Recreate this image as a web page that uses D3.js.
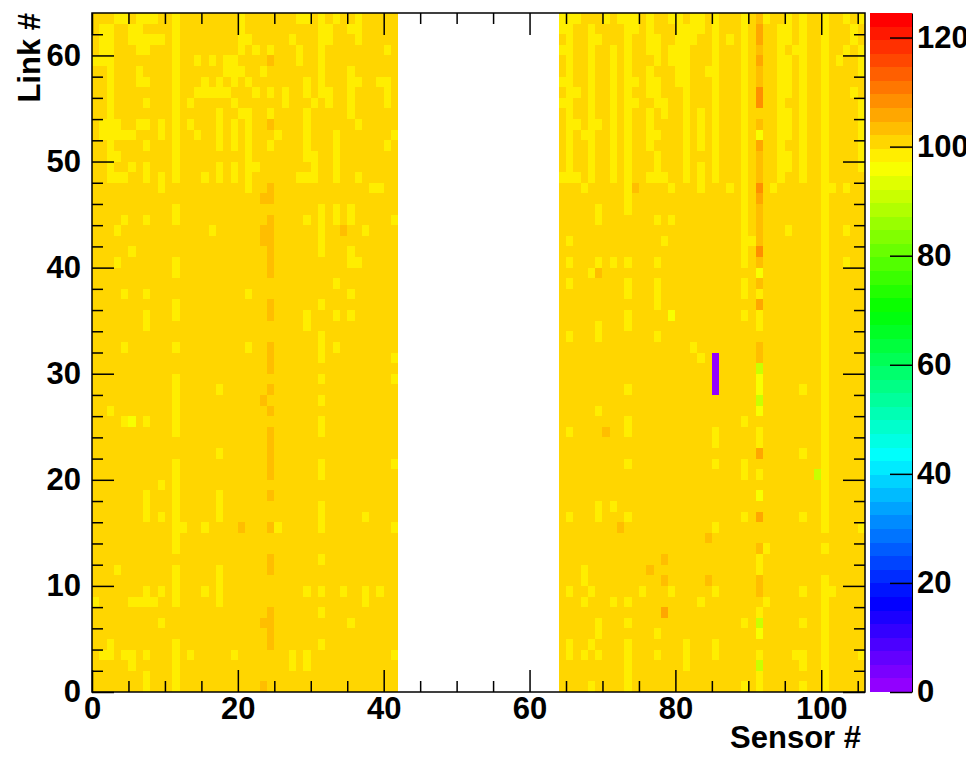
<!DOCTYPE html>
<html><head><meta charset="utf-8">
<script src="https://cdn.jsdelivr.net/npm/d3@7"></script>
<style>
html,body{margin:0;padding:0;background:#fff;}
svg{display:block;}
</style></head><body>
<svg id="chart" width="966" height="758"></svg>
<script>
// ---- data ----
// Each row = one link (63 at top down to 0), one character per sensor, '|' every 10 sensors for readability.
// Codes: '.' ~100.5, 'y' ~98, 'Y' ~96, 'g' ~90.5, 'o' ~103, 'O' ~105.5, 'R' ~108, 'p' ~2
const leftRows = [ // sensors 0..41
"...yy.yyy.|.y........|y.......yy|.y.y..y...|..",
".yy..yy...|.y........|y.........|.yy..yy...|..",
".yy..yyyyy|.y........|yy.....y..|.yy...y...|..",
".yy...yy..|.y........|y.y.y...y.|.y........|y.",
"yyy.......|.y..y.y.yy|....o...y.|.y........|..",
"..y...y...|.y......yy|y..y......|.y...y....|..",
"..y...yy..|.y...y.y.y|.y.......y|.y...yy..y|y.",
"..y.......|.y..yyyyy.|..y.y.y..y|.yy..y....|y.",
"..y....y..|.y.y.....y|......y...|y.y..y....|y.",
"..y.......|.y.....y..|yy..y....y|.....y....|..",
".yyy..yy.y|.y.y...y.y|.y..o....y|......y...|..",
".yyyyy...y|.y..y..y.y|.y...y...y|...y......|.y",
"..y....y..|.y.....y.y|.y..y....y|...y......|y.",
"..yy......|.y........|.y.......y|y..y......|..",
"..y..y.y..|.y.....y.y|.yy.......|y..y......|..",
"..yyy..y.y|.y...y.y.y|.y......yy|y..y..y...|..",
".........y|..........|.y..o.....|........yy|..",
"..........|..........|...oo.....|..........|..",
"..........|.y........|..........|.y.y.y....|..",
"....y..y..|.y........|....o....y|.y.y.y....|.y",
"...y......|......y...|...oo.....|.y..o..y..|..",
"..........|..........|...oo.....|.y........|..",
".....y....|..........|....o.....|.y...y....|..",
"...y......|.y........|....o.....|.....yy...|..",
"..........|.y........|....o.....|..........|..",
"..........|..........|..........|...y......|..",
"....y..y..|..........|.y........|.....y....|..",
"..........|.y........|....o.....|.y........|..",
".......y..|.y........|....o....y|...y.y....|..",
".......y..|..........|.........y|..........|..",
"..........|..........|..........|.y........|..",
"....y.....|.y........|.y..o.....|.y.y......|..",
"..........|..........|....o.....|.y........|.y",
"..........|..........|....o.....|..........|..",
"..........|.y........|..........|.y........|.y",
"..........|.y.....y..|....o.....|..........|..",
"..........|.y........|...o......|.y........|..",
"..y.......|.y........|....o.....|..........|..",
"....yY.y..|.y........|..........|.y........|..",
"..........|.y........|....o.....|.y........|..",
"..........|..........|....o.....|..........|..",
"..........|.......y..|....o.....|..........|..",
"..........|.y........|....o.....|.y........|.y",
"..........|.y........|....o.....|.y........|..",
".........y|.y........|..........|..........|..",
".......y..|.y.....y..|....o.....|..........|..",
".......y..|.y.....y..|..........|.y........|..",
".......y.y|.y.....y..|..........|.y.....y..|..",
"..........|.yy..y....|o...oy....|.y........|.y",
"..........|.y........|..........|..........|..",
"..........|.y........|..........|..........|..",
"..........|..........|....o.....|.y........|..",
"...y......|.y.....y..|....o.....|..........|..",
"..........|.y.....y..|..........|..........|..",
".......y.y|.y...y.y..|.........y|.y..y..y.y|..",
"y....yyyy.|.y.....y..|..........|.......y..|..",
"..........|..........|....o.....|.y........|..",
".........y|..........|...oo.....|.....y....|..",
"..........|..........|....o.....|..........|..",
"..y.......|.y........|....o.....|.y........|..",
".yy.yy.y..|.y.y.....y|.......y.y|..........|.y",
".....y....|.y........|.......y.y|..........|..",
".......y..|.y........|..........|..........|..",
".......y..|.y........|...o......|..........|.."
];
const rightRows = [ // sensors 64..105
"yyy...y.yy|y.y..yy.yy|.y...y.oy.|.y.y..y..y|.y",
"yy..y....y|y.y...yyyy|.y...y.O..|yy.y..y...|y.",
".y..yy...y|..yy..yyy.|.y.y.y.O..|yy.y..y...|y.",
"yy..y..y.y|..yy.yyy..|.y...y.o..|y.yy..y..y|.y",
".y..y..y.y|...y.yyy..|.y...y.O..|yy.y..y.y.|.y",
".y..y..y.y|..y...yy..|yy...y.o..|yy.y..y...|.y",
"yy..y..y.y|y.yy..yy..|.y...y.o..|yy.y..y...|..",
".yy.y..y.y|..yy...y..|.y...y.R..|yy.y..y...|y.",
"yy..y..y.y|y..yy..y..|.y...y.R..|y..y..y...|.y",
".y..y..y.y|..y.y..y.y|.y...y....|yy.y..y...|.y",
".yy.yy.y.y|..y....y.y|.y...y.o..|yy.y..y...|.y",
".y.yy..y.y|..yy...y.y|.y...y.Y..|yy.y..y...|.y",
".y..y..y.y|..y....y.y|.y...y.O..|y..y..y...|.y",
".y..y..y.y|...y...y..|.y...y.o..|yy.y..y...|.y",
".y..y..y.y|...y...y.y|.y...y.o..|yy.y..y...|.y",
"yyy.y..y.y|..yyy..y.y|.y...y.o..|y..y..y...|..",
"...y.....y|o....y...y|...y.y.R.y|......yy.y|..",
".........y|..........|.....y.O..|......y...|..",
".....y...y|..........|.....y.o..|......y...|..",
".....y....|...y.y....|.....y.o..|......y...|..",
"..........|..........|.....y.o..|.y....y..y|..",
".y........|....y.....|.....yyo..|......y...|..",
"..........|..........|.....y.R..|......y...|..",
".y...y.y.y|...y......|.....y.o..|......y..y|..",
"....yo....|..........|.......Y..|......y...|..",
".y.......y|...y......|.....y.o..|......y...|..",
".........y|...y......|.....y.y..|......y...|..",
"..........|...y......|.......O..|......y...|..",
".........y|.....Y....|.....y.y..|......y...|..",
".....y...y|..........|.......y..|......y...|..",
".y...y....|...y......|..........|......y...|..",
"..........|........y.|.......o..|......y...|..",
"..........|.........y|.p.....o..|......y...|..",
"..........|..........|.p.....g..|......y...|..",
"..........|..........|.p.....Y..|......y...|..",
".........y|..........|.p.....Y..|...y..y...|..",
"..........|..........|.......g..|......y...|..",
".....y....|..........|.......Y..|......y...|..",
".........y|..........|.....y....|......y...|..",
".y....o..y|..........|.y.....y..|......y...|..",
"..........|..........|.y.....y..|......y...|..",
"..........|..........|.......O..|...y..y...|..",
".........y|..........|.y...y....|......y...|..",
"..........|..........|.....y.y..|.....gy...|..",
"..........|..........|..........|......y...|..",
"..........|..........|.......Y..|......y...|..",
".....y.y..|..........|..........|......y...|..",
".y...y...y|..........|.....y.O..|...y..y...|..",
"........o.|..........|.y........|......y...|.y",
"..........|..........|o.........|..........|..",
"..........|..........|.......oy.|......y...|..",
"..........|....o.....|.......y..|..........|..",
"...y......|..o.......|.......y..|..........|..",
"...y......|....o.....|o......o..|......y...|..",
".y..y.....|.y...y....|.y.....o..|...y..yy..|..",
"...y...y.y|.........y|........y.|......y...|..",
"..........|....O.....|.......y..|......y...|..",
".....y...y|..........|.....y.g..|...y..y...|..",
".....y....|...y......|.......Y..|......y...|..",
".y..y....y|.......y..|.y........|......y...|..",
".y.y.y...y|...y...y..|.y.....y..|..yy..y...|.y",
".........y|.......y..|.......g..|...y..y...|..",
".........y|..........|.......y..|......y...|..",
"....y....y|..........|.....y.y..|...y..y...|.."
];
const codeValues = {".": 100.5, "y": 98, "Y": 96, "g": 90.5, "o": 103, "O": 105.5, "R": 108, "p": 2};
const leftSensorStart = 0;      // sensors 42..63 have no entries (white)
const rightSensorStart = 64;
const sensorMax = 106;
const linkMax = 64;
const zMax = 124.5;
const nColors = 50;
const xMajorTicks = [0, 20, 40, 60, 80, 100];
const xMinorTicks = [5, 10, 15, 25, 30, 35, 45, 50, 55, 65, 70, 75, 85, 90, 95, 105];
const yMajorTicks = [0, 10, 20, 30, 40, 50, 60];
const yMinorTicks = [2, 4, 6, 8, 12, 14, 16, 18, 22, 24, 26, 28, 32, 34, 36, 38, 42, 44, 46, 48, 52, 54, 56, 58, 62];
const zTicks = [0, 20, 40, 60, 80, 100, 120];
const xTitle = "Sensor #";
const yTitle = "Link #";

// ---- build cells ----
const cells = [];
function addRows(rows, start) {
  rows.forEach((row, i) => {
    const link = linkMax - 1 - i;
    const s = row.replace(/\|/g, "");
    for (let k = 0; k < s.length; k++) {
      const v = codeValues[s[k]];
      if (v !== undefined) cells.push({sensor: start + k, link: link, value: v});
    }
  });
}
addRows(leftRows, leftSensorStart);
addRows(rightRows, rightSensorStart);

// ---- scales ----
const L = 92, R = 865, T = 13, B = 692;
const x = d3.scaleLinear().domain([0, sensorMax]).range([L, R]);
const y = d3.scaleLinear().domain([0, linkMax]).range([B, T]);
const z = d3.scaleLinear().domain([0, zMax]).range([B, T]);
const palette = d3.range(nColors).map(i => d3.hsl(280 - (i + 1) * 5.6, 1, 0.5).formatHex());
const color = d3.scaleQuantize().domain([0, zMax]).range(palette);

const svg = d3.select("#chart");
const FONT = '"Liberation Sans", Arial, Helvetica, sans-serif';

// cells
svg.append("g").attr("shape-rendering", "crispEdges")
  .selectAll("rect").data(cells).join("rect")
  .attr("x", d => x(d.sensor))
  .attr("y", d => y(d.link + 1))
  .attr("width", d => x(d.sensor + 1) - x(d.sensor))
  .attr("height", d => y(d.link) - y(d.link + 1))
  .attr("fill", d => color(d.value));

// colour bar
const CB0 = 870, CB1 = 912;
const bands = d3.range(nColors).map(i => ({lo: i * zMax / nColors, hi: (i + 1) * zMax / nColors, c: palette[i]}));
svg.append("g").attr("shape-rendering", "crispEdges")
  .selectAll("rect").data(bands).join("rect")
  .attr("x", CB0).attr("width", CB1 - CB0)
  .attr("y", d => z(d.hi)).attr("height", d => z(d.lo) - z(d.hi))
  .attr("fill", d => d.c);

function styleAxis(g) {
  g.attr("font-family", FONT).attr("font-size", 31).attr("font-weight", "bold");
  g.selectAll("line").attr("stroke", "#000").attr("stroke-width", 1.5);
  g.selectAll("text").attr("fill", "#000");
}

// bottom
svg.append("g").attr("transform", `translate(0,${B})`)
  .call(d3.axisBottom(x).tickValues(xMinorTicks).tickSizeInner(-11).tickSizeOuter(0).tickFormat(""))
  .call(g => g.select(".domain").remove()).call(styleAxis);
svg.append("g").attr("transform", `translate(0,${B})`)
  .call(d3.axisBottom(x).tickValues(xMajorTicks).tickSizeInner(-22).tickSizeOuter(0).tickPadding(5).tickFormat(d3.format("d")))
  .call(g => g.select(".domain").remove()).call(styleAxis);
// top
svg.append("g").attr("transform", `translate(0,${T})`)
  .call(d3.axisTop(x).tickValues(xMinorTicks).tickSizeInner(-11).tickSizeOuter(0).tickFormat(""))
  .call(g => g.select(".domain").remove()).call(styleAxis);
svg.append("g").attr("transform", `translate(0,${T})`)
  .call(d3.axisTop(x).tickValues(xMajorTicks).tickSizeInner(-22).tickSizeOuter(0).tickFormat(""))
  .call(g => g.select(".domain").remove()).call(styleAxis);
// left
svg.append("g").attr("transform", `translate(${L},0)`)
  .call(d3.axisLeft(y).tickValues(yMinorTicks).tickSizeInner(-11).tickSizeOuter(0).tickFormat(""))
  .call(g => g.select(".domain").remove()).call(styleAxis);
svg.append("g").attr("transform", `translate(${L},0)`)
  .call(d3.axisLeft(y).tickValues(yMajorTicks).tickSizeInner(-22).tickSizeOuter(0).tickPadding(11).tickFormat(d3.format("d")))
  .call(g => g.select(".domain").remove()).call(styleAxis);
// right
svg.append("g").attr("transform", `translate(${R},0)`)
  .call(d3.axisRight(y).tickValues(yMinorTicks).tickSizeInner(-11).tickSizeOuter(0).tickFormat(""))
  .call(g => g.select(".domain").remove()).call(styleAxis);
svg.append("g").attr("transform", `translate(${R},0)`)
  .call(d3.axisRight(y).tickValues(yMajorTicks).tickSizeInner(-22).tickSizeOuter(0).tickFormat(""))
  .call(g => g.select(".domain").remove()).call(styleAxis);

// frame
svg.append("rect").attr("x", L).attr("y", T).attr("width", R - L).attr("height", B - T)
  .attr("fill", "none").attr("stroke", "#000").attr("stroke-width", 1.5);

// colour bar axis (labels run past the right edge, as in the reference)
svg.append("g").attr("transform", `translate(${CB1},0)`)
  .call(d3.axisRight(z).tickValues(zTicks).tickSizeInner(-22).tickSizeOuter(0).tickPadding(5).tickFormat(d3.format("d")))
  .call(styleAxis)
  .call(g => g.select(".domain").attr("stroke", "#000").attr("stroke-width", 1));

// titles
svg.append("text").attr("x", 861).attr("y", 748).attr("text-anchor", "end")
  .attr("font-family", FONT).attr("font-size", 31).attr("font-weight", "bold").text(xTitle);
svg.append("text").attr("transform", "translate(40,13) rotate(-90)").attr("text-anchor", "end")
  .attr("font-family", FONT).attr("font-size", 31).attr("font-weight", "bold").text(yTitle);
</script>
</body></html>
